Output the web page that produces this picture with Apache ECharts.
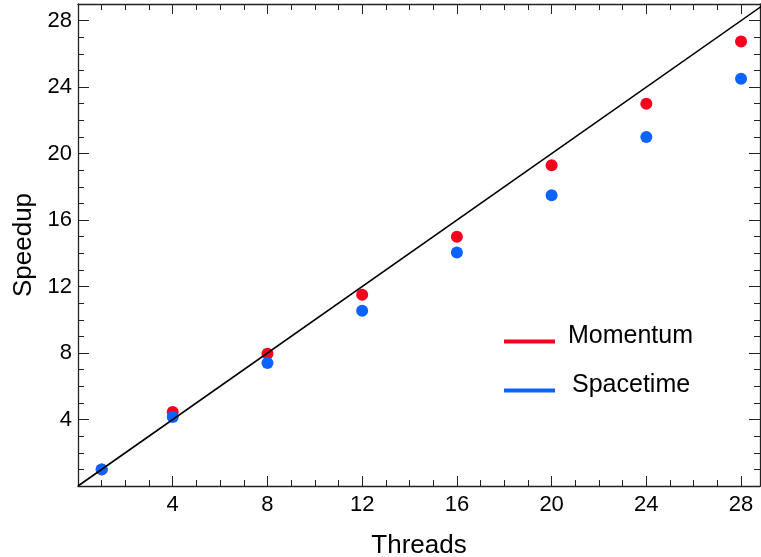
<!DOCTYPE html>
<html>
<head>
<meta charset="utf-8">
<script src="https://cdn.jsdelivr.net/npm/echarts@6/dist/echarts.min.js"></script>
<style>
  html, body { margin: 0; padding: 0; background: #fff; }
  #chart { width: 761px; height: 557px; }
</style>
</head>
<body>
<div id="chart"></div>
<script>
const threads = [1, 4, 8, 12, 16, 20, 24, 28];
const momentum = [1, 4.45, 7.95, 11.5, 15, 19.3, 23, 26.75];
const spacetime = [1, 4.15, 7.4, 10.55, 14.05, 17.5, 21, 24.5];
// ideal linear speedup
const idealX = [0, 29];
const idealY = [0, 29];

const font = "Liberation Sans, Arial, sans-serif";
const frame = "#222";

const chart = echarts.init(document.getElementById("chart"));

// axes: major (interval 4) and minor (interval 1) stacked on each side
function xAx(pos, step, len, showLine, labels) {
  return {
    type: "value", position: pos, min: 0, max: 28.8, interval: step,
    axisLine: { show: showLine, onZero: false, lineStyle: { color: frame, width: 1.3 } },
    axisTick: { show: true, inside: true, length: len, lineStyle: { color: frame, width: 1 } },
    axisLabel: labels
      ? { show: true, fontSize: 22, color: "#000", fontFamily: font, margin: 8, showMinLabel: false, showMaxLabel: false }
      : { show: false },
    splitLine: { show: false },
  };
}
function yAx(pos, step, len, showLine, labels) {
  return {
    type: "value", position: pos, min: 0, max: 29, interval: step,
    axisLine: { show: showLine, onZero: false, lineStyle: { color: frame, width: 1.3 } },
    axisTick: { show: true, inside: true, length: len, lineStyle: { color: frame, width: 1 } },
    axisLabel: labels
      ? { show: true, fontSize: 22, color: "#000", fontFamily: font, margin: 6, showMinLabel: false, showMaxLabel: false }
      : { show: false },
    splitLine: { show: false },
  };
}

const xMain = xAx("bottom", 4, 10, true, true);
xMain.name = "Threads";
xMain.nameLocation = "middle";
xMain.nameGap = 47;
xMain.nameTextStyle = { fontSize: 26, color: "#000", fontFamily: font };

const yMain = yAx("left", 4, 11, true, true);
yMain.name = "Speedup";
yMain.nameLocation = "middle";
yMain.nameGap = 41;
yMain.nameTextStyle = { fontSize: 26, color: "#000", fontFamily: font };

// legend line sits a little below the text centre
const legendIcon = "path://M0,0L0,0M0,13L51,13L51,17L0,17ZM0,20L0,20";

const legendText = (padLeft) => ({
  fontSize: 25, color: "#000", fontFamily: font, padding: [0, 0, 0, padLeft],
});

const option = {
  animation: false,
  backgroundColor: "#fff",
  grid: { left: 78, right: 1, top: 4, bottom: 71, containLabel: false, outerBoundsMode: "none" },
  xAxis: [
    xMain,
    xAx("bottom", 1, 6, false, false),
    xAx("top", 4, 10, true, false),
    xAx("top", 1, 6, false, false),
  ],
  yAxis: [
    yMain,
    yAx("left", 1, 6, false, false),
    yAx("right", 4, 11, true, false),
    yAx("right", 1, 6, false, false),
  ],
  legend: [
    {
      data: ["Momentum"], left: 504, top: 324, padding: 0,
      icon: legendIcon, itemWidth: 51, itemHeight: 20,
      textStyle: legendText(8),
    },
    {
      data: ["Spacetime"], left: 504, top: 373, padding: 0,
      icon: legendIcon, itemWidth: 51, itemHeight: 20,
      textStyle: legendText(12),
    },
  ],
  series: [
    {
      name: "ideal", type: "line", xAxisIndex: 0, yAxisIndex: 0,
      data: idealX.map((x, i) => [x, idealY[i]]),
      showSymbol: false, clip: true, silent: true,
      lineStyle: { color: "#000", width: 1.6 },
    },
    {
      name: "Momentum", type: "scatter", xAxisIndex: 0, yAxisIndex: 0,
      data: threads.map((t, i) => [t, momentum[i]]),
      symbolSize: 12,
      itemStyle: { color: "#f5001e", opacity: 1 },
    },
    {
      name: "Spacetime", type: "scatter", xAxisIndex: 0, yAxisIndex: 0,
      data: threads.map((t, i) => [t, spacetime[i]]),
      symbolSize: 12,
      itemStyle: { color: "#0a64ff", opacity: 1 },
    },
  ],
};

chart.setOption(option);
</script>
</body>
</html>
